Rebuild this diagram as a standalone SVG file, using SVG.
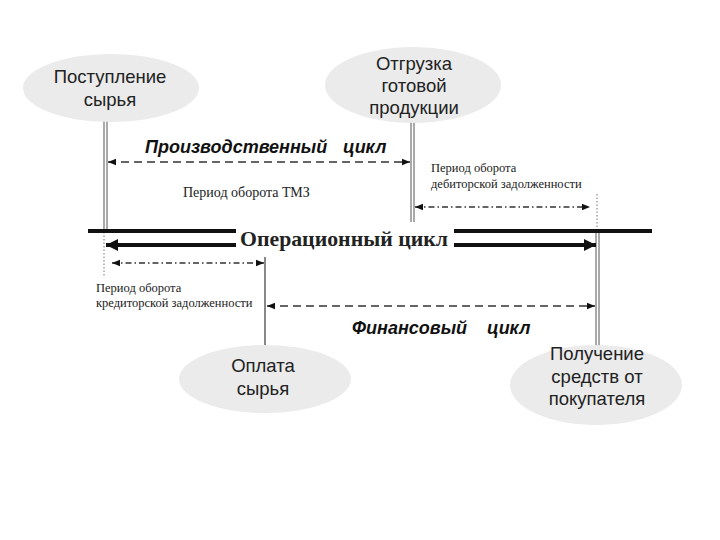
<svg xmlns="http://www.w3.org/2000/svg" width="720" height="540" viewBox="0 0 720 540">
<style>
.node ellipse{fill:#ebebeb;stroke:none}
.lbl{font-family:"Liberation Sans",Arial,sans-serif;font-size:18.5px;fill:#222;text-anchor:middle}
.cyc{font-family:"Liberation Sans",Arial,sans-serif;font-size:18px;font-weight:bold;font-style:italic;fill:#111}
.ser{font-family:"Liberation Serif","Times New Roman",serif;fill:#222}
.vl{stroke:#555;stroke-width:1;fill:none}
.dot{stroke:#777;stroke-width:1;stroke-dasharray:1.5 2;fill:none}
.dash{stroke:#333;stroke-width:1.5;stroke-dasharray:8 5;fill:none}
.dd{stroke:#333;stroke-width:1.5;stroke-dasharray:6 3 1.5 3;fill:none}
</style>
<defs>
<marker id="ah" viewBox="0 0 10 10" refX="10" refY="5" markerWidth="10" markerHeight="8" markerUnits="userSpaceOnUse" orient="auto-start-reverse"><path d="M0,1 L10,5 L0,9 Z" fill="#111"/></marker>
<marker id="ahb" viewBox="0 0 10 10" refX="10" refY="5" markerWidth="18" markerHeight="12" markerUnits="userSpaceOnUse" orient="auto-start-reverse"><path d="M0,0 L10,5 L0,10 Z" fill="#111"/></marker>
</defs>
<rect width="720" height="540" fill="#fff"/>
<g id="connectors">
<line class="vl" x1="104" y1="120" x2="104" y2="232"/>
<line class="vl" x1="107" y1="120" x2="107" y2="232"/>
<line class="dot" x1="104" y1="232" x2="104" y2="276"/>
<line class="vl" x1="411" y1="122" x2="411" y2="222"/>
<line class="vl" x1="414" y1="122" x2="414" y2="222"/>
<line class="dot" x1="597" y1="194" x2="597" y2="232"/>
<line class="vl" x1="596" y1="232" x2="596" y2="346"/>
<line class="vl" x1="599" y1="232" x2="599" y2="346"/>
<line stroke="#888" stroke-width="2" x1="265" y1="257" x2="265" y2="346"/>
<line stroke="#111" stroke-width="4" x1="88" y1="231" x2="236" y2="231"/>
<line stroke="#111" stroke-width="4" x1="454" y1="231" x2="652" y2="231"/>
<line stroke="#111" stroke-width="4" x1="106" y1="245" x2="236" y2="245" marker-start="url(#ahb)"/>
<line stroke="#111" stroke-width="4" x1="454" y1="245" x2="596" y2="245" marker-end="url(#ahb)"/>
<line class="dash" x1="108" y1="162" x2="410" y2="162" marker-start="url(#ah)" marker-end="url(#ah)"/>
<line class="dd" x1="415" y1="207" x2="590" y2="207" marker-start="url(#ah)" marker-end="url(#ah)"/>
<line class="dd" x1="112" y1="263" x2="264" y2="263" marker-start="url(#ah)" marker-end="url(#ah)"/>
<line class="dash" x1="267" y1="306" x2="595" y2="306" marker-start="url(#ah)" marker-end="url(#ah)"/>
</g>
<g id="labels">
<text class="cyc" x="145" y="153">Производственный</text>
<text class="cyc" x="343" y="153">цикл</text>
<text class="ser" x="183" y="197" font-size="14">Период оборота ТМЗ</text>
<text class="ser" x="431" y="172" font-size="12.5">Период оборота</text>
<text class="ser" x="431" y="188" font-size="12.5">дебиторской задолженности</text>
<text class="ser" x="240" y="246" font-size="21" font-weight="bold" textLength="208" lengthAdjust="spacingAndGlyphs" fill="#111">Операционный  цикл</text>
<text class="ser" x="96" y="292" font-size="12.5">Период оборота</text>
<text class="ser" x="96" y="307" font-size="12.5">кредиторской задолженности</text>
<text class="cyc" x="352" y="334" fill="#333">Финансовый</text>
<text class="cyc" x="487" y="334" fill="#333">цикл</text>
</g>
<g id="n1" class="node">
<ellipse cx="111" cy="88" rx="88" ry="34"/>
<text class="lbl" x="110" y="83">Поступление</text>
<text class="lbl" x="110" y="106">сырья</text>
</g>
<g id="n2" class="node">
<ellipse cx="413" cy="85" rx="88" ry="38"/>
<text class="lbl" x="414" y="70">Отгрузка</text>
<text class="lbl" x="414" y="92">готовой</text>
<text class="lbl" x="414" y="114">продукции</text>
</g>
<g id="n3" class="node">
<ellipse cx="265" cy="379" rx="86" ry="34"/>
<text class="lbl" x="263" y="372">Оплата</text>
<text class="lbl" x="263" y="395">сырья</text>
</g>
<g id="n4" class="node">
<ellipse cx="596" cy="385" rx="86" ry="40"/>
<text class="lbl" x="597" y="360">Получение</text>
<text class="lbl" x="597" y="383">средств от</text>
<text class="lbl" x="597" y="405">покупателя</text>
</g>
</svg>
